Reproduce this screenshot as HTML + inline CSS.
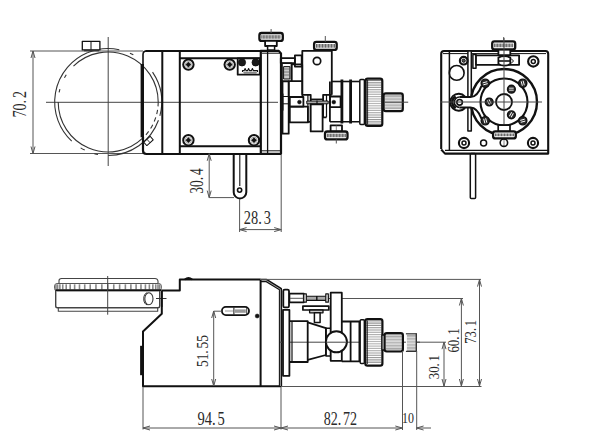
<!DOCTYPE html>
<html><head><meta charset="utf-8"><style>
html,body{margin:0;padding:0;background:#fff;width:600px;height:443px;overflow:hidden}
svg{display:block}
</style></head><body>
<svg width="600" height="443" viewBox="0 0 600 443" stroke-linecap="butt" stroke-linejoin="round">
<defs><linearGradient id="kg" x1="0" y1="0" x2="0" y2="1">
<stop offset="0" stop-color="#999"/><stop offset="0.3" stop-color="#d4d4d4"/><stop offset="0.5" stop-color="#ececec"/><stop offset="0.7" stop-color="#d4d4d4"/><stop offset="1" stop-color="#999"/></linearGradient></defs>
<rect x="0" y="0" width="600" height="443" fill="#fff"/>
<line x1="46" y1="102.3" x2="278" y2="102.3" stroke="#444" stroke-width="1" />
<line x1="108.2" y1="37" x2="108.2" y2="166" stroke="#444" stroke-width="1" />
<line x1="30" y1="51" x2="143" y2="51" stroke="#555" stroke-width="1" />
<line x1="30" y1="153.5" x2="143" y2="153.5" stroke="#555" stroke-width="1" />
<line x1="33" y1="51" x2="33" y2="153.5" stroke="#555" stroke-width="1" />
<path d="M35.00,58.00 L33,51 L31.00,58.00" stroke="#555" stroke-width="1" fill="none" />
<path d="M31.00,146.50 L33,153.5 L35.00,146.50" stroke="#555" stroke-width="1" fill="none" />
<text transform="translate(26.34,117.59) rotate(-90) scale(0.778,1)" font-family="Liberation Serif" font-size="18.21" fill="#2a2a2a">70.<tspan dx="2.37">2</tspan></text>
<path d="M73.47,66.03 A50,50 0 0 1 158.20,102.00" stroke="#333" stroke-width="1.1" fill="none" />
<path d="M158.20,102.00 A50,50 0 0 1 158.01,106.36" stroke="#333" stroke-width="1.1" fill="none" />
<path d="M157.58,109.82 A50,50 0 0 1 156.71,114.10" stroke="#333" stroke-width="1.1" fill="none" />
<path d="M155.75,117.45 A50,50 0 0 1 154.23,121.54" stroke="#333" stroke-width="1.1" fill="none" />
<path d="M152.75,124.70 A50,50 0 0 1 150.60,128.50" stroke="#333" stroke-width="1.1" fill="none" />
<path d="M148.65,131.39 A50,50 0 0 1 145.94,134.80" stroke="#333" stroke-width="1.1" fill="none" />
<path d="M142.93,137.97 A50,50 0 0 1 58.20,102.00" stroke="#333" stroke-width="1.1" fill="none" />
<path d="M59.12,92.46 A50,50 0 0 1 59.90,89.06" stroke="#333" stroke-width="1.1" fill="none" />
<path d="M64.47,77.76 A50,50 0 0 1 66.27,74.77" stroke="#333" stroke-width="1.1" fill="none" />
<path d="M71.71,141.13 A53.5,53.5 0 0 1 87.30,52.75" stroke="#333" stroke-width="1.1" fill="none" />
<path d="M97.99,154.52 A53.5,53.5 0 0 1 94.35,153.68" stroke="#333" stroke-width="1.1" fill="none" />
<path d="M84.75,150.09 A53.5,53.5 0 0 1 80.65,147.86" stroke="#333" stroke-width="1.1" fill="none" />
<path d="M87.30,52.75 A53.5,53.5 0 0 1 119.32,49.67" stroke="#333" stroke-width="1.1" fill="none" />
<path d="M129.96,53.13 A53.5,53.5 0 0 1 133.32,54.76" stroke="#333" stroke-width="1.1" fill="none" />
<path d="M152.55,72.08 A53.5,53.5 0 0 1 159.88,115.85" stroke="#333" stroke-width="1.1" fill="none" />
<path d="M158.47,120.30 A53.5,53.5 0 0 1 108.20,155.50" stroke="#333" stroke-width="1.1" fill="none" />
<rect x="82.3" y="41.3" width="17.6" height="8.6" rx="0" stroke="#111" stroke-width="1.3" fill="#fff" />
<line x1="91" y1="41.3" x2="91" y2="49.9" stroke="#111" stroke-width="1" />
<path d="M84,50.5 L99,50.5" stroke="#333" stroke-width="1.6" fill="none" />
<path d="M145.5,51 L261,51" stroke="#111" stroke-width="2.2" fill="none" />
<line x1="261" y1="150.8" x2="280" y2="150.8" stroke="#111" stroke-width="1" />
<path d="M143,64 L143,54.5 Q143,51 146.5,51" stroke="#111" stroke-width="1.6" fill="none" />
<path d="M143,137 L143,150.5 Q143,154 146.5,154 L281,154" stroke="#111" stroke-width="2.2" fill="none" />
<line x1="142.3" y1="64" x2="142.3" y2="137.3" stroke="#111" stroke-width="3.4" />
<g transform="translate(148.5,141) rotate(-42)"><rect x="-4.3" y="-2.3" width="8.6" height="4.6" stroke="#111" stroke-width="1" fill="#fff"/><line x1="0" y1="-2.3" x2="0" y2="2.3" stroke="#111" stroke-width="0.8"/></g>
<line x1="162.3" y1="51" x2="162.3" y2="154" stroke="#111" stroke-width="2" />
<line x1="179.8" y1="51" x2="179.8" y2="154" stroke="#111" stroke-width="2" />
<line x1="179.8" y1="58.2" x2="261" y2="58.2" stroke="#111" stroke-width="2" />
<line x1="179.8" y1="146.2" x2="261" y2="146.2" stroke="#111" stroke-width="2" />
<circle cx="188.4" cy="64.6" r="5.2" stroke="#111" stroke-width="2.0" fill="#fff" />
<circle cx="188.4" cy="64.6" r="3.2" stroke="#999" stroke-width="0.8" fill="none" />
<path d="M185.8,64.6 L188.4,62 L191,64.6 L188.4,67.2 Z" stroke="#111" stroke-width="0.5" fill="#111" />
<circle cx="229.7" cy="64.6" r="5.2" stroke="#111" stroke-width="2.0" fill="#fff" />
<circle cx="229.7" cy="64.6" r="3.2" stroke="#999" stroke-width="0.8" fill="none" />
<path d="M227.1,64.6 L229.7,62 L232.3,64.6 L229.7,67.2 Z" stroke="#111" stroke-width="0.5" fill="#111" />
<circle cx="188.4" cy="140.2" r="5.2" stroke="#111" stroke-width="2.0" fill="#fff" />
<circle cx="188.4" cy="140.2" r="3.2" stroke="#999" stroke-width="0.8" fill="none" />
<path d="M185.8,140.2 L188.4,137.6 L191,140.2 L188.4,142.8 Z" stroke="#111" stroke-width="0.5" fill="#111" />
<circle cx="254" cy="140.2" r="5.2" stroke="#111" stroke-width="2.0" fill="#fff" />
<circle cx="254" cy="140.2" r="3.2" stroke="#999" stroke-width="0.8" fill="none" />
<path d="M251.4,140.2 L254,137.6 L256.6,140.2 L254,142.8 Z" stroke="#111" stroke-width="0.5" fill="#111" />
<rect x="237.7" y="58.3" width="22.1" height="16.4" rx="0" stroke="#111" stroke-width="1.8" fill="#fff" />
<circle cx="242" cy="62.4" r="3.6" stroke="#111" stroke-width="0.8" fill="#1a1a1a" />
<circle cx="255.6" cy="62.4" r="3.6" stroke="#111" stroke-width="0.8" fill="#1a1a1a" />
<path d="M242.5,72 L242.5,70.6 L244.2,70.6 L245.1,68.6 L246,70.6 L247.7,70.6 L248.6,68.6 L249.5,70.6 L251.5,70.6 L252.4,68.6 L253.3,70.6 L257.5,70.6 L257.5,72" stroke="#111" stroke-width="1.1" fill="none" />
<rect x="243.7" y="72" width="12.9" height="1.4" rx="0.6" stroke="#666" stroke-width="0.5" fill="#999" />
<path d="M260.8,153.8 L260.8,50.9 L278.8,50.9 L281,53.5 L281,153.8 Z" stroke="#111" stroke-width="2.2" fill="none" />
<line x1="267.6" y1="52" x2="267.6" y2="153" stroke="#111" stroke-width="1.3" />
<line x1="262" y1="53.2" x2="280" y2="53.2" stroke="#111" stroke-width="1" />
<rect x="259.4" y="33" width="23.4" height="7.9" rx="2.2" stroke="#111" stroke-width="2.3" fill="#fff" />
<rect x="261.2" y="35.2" width="19.8" height="3.5" rx="0" stroke="none" stroke-width="0" fill="#ddd" />
<line x1="261.8" y1="35.2" x2="261.8" y2="38.7" stroke="#333" stroke-width="0.7" />
<line x1="263.3" y1="35.2" x2="263.3" y2="38.7" stroke="#333" stroke-width="0.7" />
<line x1="264.8" y1="35.2" x2="264.8" y2="38.7" stroke="#333" stroke-width="0.7" />
<line x1="266.3" y1="35.2" x2="266.3" y2="38.7" stroke="#333" stroke-width="0.7" />
<line x1="267.8" y1="35.2" x2="267.8" y2="38.7" stroke="#333" stroke-width="0.7" />
<line x1="269.3" y1="35.2" x2="269.3" y2="38.7" stroke="#333" stroke-width="0.7" />
<line x1="270.8" y1="35.2" x2="270.8" y2="38.7" stroke="#333" stroke-width="0.7" />
<line x1="272.3" y1="35.2" x2="272.3" y2="38.7" stroke="#333" stroke-width="0.7" />
<line x1="273.8" y1="35.2" x2="273.8" y2="38.7" stroke="#333" stroke-width="0.7" />
<line x1="275.3" y1="35.2" x2="275.3" y2="38.7" stroke="#333" stroke-width="0.7" />
<line x1="276.8" y1="35.2" x2="276.8" y2="38.7" stroke="#333" stroke-width="0.7" />
<line x1="278.3" y1="35.2" x2="278.3" y2="38.7" stroke="#333" stroke-width="0.7" />
<line x1="279.8" y1="35.2" x2="279.8" y2="38.7" stroke="#333" stroke-width="0.7" />
<rect x="265.1" y="40.9" width="11.7" height="5.1" rx="0" stroke="#111" stroke-width="1.8" fill="#fff" />
<rect x="267.6" y="46" width="7" height="4.1" rx="0" stroke="#111" stroke-width="1.5" fill="#fff" />
<line x1="271.1" y1="29" x2="271.1" y2="33" stroke="#555" stroke-width="1" />
<rect x="280.8" y="58.2" width="14.1" height="5" rx="0" stroke="#111" stroke-width="1.8" fill="none" />
<rect x="294.9" y="55.3" width="6.8" height="11.3" rx="0" stroke="#111" stroke-width="1.8" fill="none" />
<path d="M302.3,94.8 L302.3,50.9 L331.8,50.9 L331.8,94.8" stroke="#111" stroke-width="1.8" fill="none" />
<circle cx="317" cy="61" r="3.7" stroke="#111" stroke-width="1.7" fill="none" />
<rect x="314.1" y="41.8" width="22.6" height="8.1" rx="2.2" stroke="#111" stroke-width="2.3" fill="#fff" />
<rect x="315.9" y="44" width="19" height="3.7" rx="0" stroke="none" stroke-width="0" fill="#ddd" />
<line x1="316.5" y1="44" x2="316.5" y2="47.7" stroke="#333" stroke-width="0.7" />
<line x1="318" y1="44" x2="318" y2="47.7" stroke="#333" stroke-width="0.7" />
<line x1="319.5" y1="44" x2="319.5" y2="47.7" stroke="#333" stroke-width="0.7" />
<line x1="321" y1="44" x2="321" y2="47.7" stroke="#333" stroke-width="0.7" />
<line x1="322.5" y1="44" x2="322.5" y2="47.7" stroke="#333" stroke-width="0.7" />
<line x1="324" y1="44" x2="324" y2="47.7" stroke="#333" stroke-width="0.7" />
<line x1="325.5" y1="44" x2="325.5" y2="47.7" stroke="#333" stroke-width="0.7" />
<line x1="327" y1="44" x2="327" y2="47.7" stroke="#333" stroke-width="0.7" />
<line x1="328.5" y1="44" x2="328.5" y2="47.7" stroke="#333" stroke-width="0.7" />
<line x1="330" y1="44" x2="330" y2="47.7" stroke="#333" stroke-width="0.7" />
<line x1="331.5" y1="44" x2="331.5" y2="47.7" stroke="#333" stroke-width="0.7" />
<line x1="333" y1="44" x2="333" y2="47.7" stroke="#333" stroke-width="0.7" />
<line x1="334.5" y1="44" x2="334.5" y2="47.7" stroke="#333" stroke-width="0.7" />
<line x1="325.3" y1="36" x2="325.3" y2="41.8" stroke="#555" stroke-width="1" />
<rect x="282" y="63.2" width="9.6" height="18.1" rx="0" stroke="#111" stroke-width="1.6" fill="none" />
<rect x="283.6" y="66.6" width="6.3" height="12.4" rx="0" stroke="#111" stroke-width="1" fill="#ccc" />
<line x1="284" y1="69" x2="289.5" y2="69" stroke="#666" stroke-width="0.8" />
<line x1="284" y1="72" x2="289.5" y2="72" stroke="#666" stroke-width="0.8" />
<line x1="284" y1="75" x2="289.5" y2="75" stroke="#666" stroke-width="0.8" />
<rect x="291.6" y="64.4" width="10.7" height="16.9" rx="0" stroke="#111" stroke-width="1.6" fill="none" />
<rect x="282.5" y="81.3" width="6.2" height="52.4" rx="0" stroke="#111" stroke-width="1.8" fill="none" />
<line x1="282" y1="93.6" x2="282" y2="110.6" stroke="#111" stroke-width="3" />
<line x1="283" y1="96.5" x2="288" y2="96.5" stroke="#111" stroke-width="1" />
<line x1="283" y1="103.8" x2="288" y2="103.8" stroke="#111" stroke-width="1" />
<rect x="288.7" y="81.3" width="13.6" height="15.7" rx="0" stroke="#111" stroke-width="1.6" fill="none" />
<rect x="289.8" y="97" width="13.6" height="9.6" rx="0" stroke="#111" stroke-width="1.8" fill="none" />
<circle cx="299.4" cy="102.1" r="1.9" stroke="#111" stroke-width="0.5" fill="#111" />
<rect x="289.8" y="106.6" width="18.1" height="15.8" rx="0" stroke="#111" stroke-width="1.8" fill="none" />
<path d="M302.3,94.8 L310.7,94.8 L310.7,121.8 L307.9,121.8" stroke="#111" stroke-width="1.8" fill="none" />
<path d="M331.8,94.8 L323.1,94.8 L323.1,117.3 L326.5,117.3" stroke="#111" stroke-width="1.8" fill="none" />
<line x1="307.9" y1="94.8" x2="307.9" y2="121.8" stroke="#111" stroke-width="1.2" />
<line x1="326.5" y1="94.8" x2="326.5" y2="117.3" stroke="#111" stroke-width="1.2" />
<line x1="310.7" y1="99.3" x2="323.1" y2="99.3" stroke="#111" stroke-width="1.5" />
<rect x="306.8" y="101" width="21.4" height="2.8" rx="0" stroke="#111" stroke-width="1" fill="#aaa" />
<line x1="317" y1="100.5" x2="317" y2="104.3" stroke="#111" stroke-width="1.2" />
<rect x="310.7" y="104.4" width="11.9" height="27" rx="0" stroke="#111" stroke-width="1.8" fill="#fff" />
<rect x="329.9" y="96.5" width="10.7" height="10.7" rx="0" stroke="#111" stroke-width="1.8" fill="none" />
<circle cx="333.8" cy="102.1" r="1.9" stroke="#111" stroke-width="0.5" fill="#111" />
<line x1="329.9" y1="81.5" x2="329.9" y2="121.8" stroke="#111" stroke-width="1.8" />
<line x1="331.8" y1="81.5" x2="360" y2="81.5" stroke="#111" stroke-width="1.6" />
<line x1="329.9" y1="121.8" x2="365" y2="121.8" stroke="#111" stroke-width="1.6" />
<line x1="341.9" y1="79.5" x2="341.9" y2="123.5" stroke="#111" stroke-width="2.8" />
<line x1="350.6" y1="79.5" x2="350.6" y2="123.5" stroke="#111" stroke-width="2.8" />
<rect x="359.8" y="79.6" width="4.6" height="45" rx="1" stroke="#111" stroke-width="1.5" fill="#fff" />
<rect x="365.6" y="78.7" width="16.7" height="47.2" rx="2.2" stroke="none" stroke-width="0" fill="#fff" />
<line x1="366.6" y1="80.5" x2="381.3" y2="80.5" stroke="#818181" stroke-width="1.15" />
<line x1="366.6" y1="82.8" x2="381.3" y2="82.8" stroke="#8c8c8c" stroke-width="1.15" />
<line x1="366.6" y1="85.1" x2="381.3" y2="85.1" stroke="#969696" stroke-width="1.15" />
<line x1="366.6" y1="87.4" x2="381.3" y2="87.4" stroke="#9e9e9e" stroke-width="1.15" />
<line x1="366.6" y1="89.7" x2="381.3" y2="89.7" stroke="#a5a5a5" stroke-width="1.15" />
<line x1="366.6" y1="92" x2="381.3" y2="92" stroke="#ababab" stroke-width="1.15" />
<line x1="366.6" y1="94.3" x2="381.3" y2="94.3" stroke="#b0b0b0" stroke-width="1.15" />
<line x1="366.6" y1="96.6" x2="381.3" y2="96.6" stroke="#b4b4b4" stroke-width="1.15" />
<line x1="366.6" y1="98.9" x2="381.3" y2="98.9" stroke="#b6b6b6" stroke-width="1.15" />
<line x1="366.6" y1="101.2" x2="381.3" y2="101.2" stroke="#b7b7b7" stroke-width="1.15" />
<line x1="366.6" y1="103.5" x2="381.3" y2="103.5" stroke="#b7b7b7" stroke-width="1.15" />
<line x1="366.6" y1="105.8" x2="381.3" y2="105.8" stroke="#b6b6b6" stroke-width="1.15" />
<line x1="366.6" y1="108.1" x2="381.3" y2="108.1" stroke="#b4b4b4" stroke-width="1.15" />
<line x1="366.6" y1="110.4" x2="381.3" y2="110.4" stroke="#b0b0b0" stroke-width="1.15" />
<line x1="366.6" y1="112.7" x2="381.3" y2="112.7" stroke="#ababab" stroke-width="1.15" />
<line x1="366.6" y1="115" x2="381.3" y2="115" stroke="#a5a5a5" stroke-width="1.15" />
<line x1="366.6" y1="117.3" x2="381.3" y2="117.3" stroke="#9e9e9e" stroke-width="1.15" />
<line x1="366.6" y1="119.6" x2="381.3" y2="119.6" stroke="#959595" stroke-width="1.15" />
<line x1="366.6" y1="121.9" x2="381.3" y2="121.9" stroke="#8b8b8b" stroke-width="1.15" />
<line x1="366.6" y1="124.2" x2="381.3" y2="124.2" stroke="#808080" stroke-width="1.15" />
<rect x="365.6" y="78.7" width="16.7" height="47.2" rx="2.2" stroke="#111" stroke-width="2.2" fill="none" />
<line x1="367.6" y1="80" x2="367.6" y2="124.6" stroke="#111" stroke-width="0.9" />
<rect x="382.3" y="95.8" width="2.5" height="12.9" rx="0" stroke="#111" stroke-width="1.2" fill="#fff" />
<rect x="383.6" y="93.4" width="19.2" height="17.8" rx="2.2" stroke="none" stroke-width="0" fill="#fff" />
<line x1="384.6" y1="95.2" x2="401.8" y2="95.2" stroke="#898989" stroke-width="0.9" />
<line x1="384.6" y1="96.7" x2="401.8" y2="96.7" stroke="#949494" stroke-width="0.9" />
<line x1="384.6" y1="98.2" x2="401.8" y2="98.2" stroke="#9d9d9d" stroke-width="0.9" />
<line x1="384.6" y1="99.7" x2="401.8" y2="99.7" stroke="#a3a3a3" stroke-width="0.9" />
<line x1="384.6" y1="101.2" x2="401.8" y2="101.2" stroke="#a7a7a7" stroke-width="0.9" />
<line x1="384.6" y1="102.7" x2="401.8" y2="102.7" stroke="#a7a7a7" stroke-width="0.9" />
<line x1="384.6" y1="104.2" x2="401.8" y2="104.2" stroke="#a5a5a5" stroke-width="0.9" />
<line x1="384.6" y1="105.7" x2="401.8" y2="105.7" stroke="#a0a0a0" stroke-width="0.9" />
<line x1="384.6" y1="107.2" x2="401.8" y2="107.2" stroke="#999999" stroke-width="0.9" />
<line x1="384.6" y1="108.7" x2="401.8" y2="108.7" stroke="#8f8f8f" stroke-width="0.9" />
<rect x="383.6" y="93.4" width="19.2" height="17.8" rx="2.2" stroke="#111" stroke-width="2.2" fill="none" />
<line x1="384" y1="102.2" x2="408.2" y2="102.2" stroke="#444" stroke-width="1" />
<rect x="330.6" y="125.4" width="11.4" height="6.2" rx="0" stroke="#111" stroke-width="1.8" fill="#fff" />
<line x1="336.3" y1="125.4" x2="336.3" y2="131.6" stroke="#666" stroke-width="0.8" />
<rect x="325" y="131.5" width="22.5" height="7.9" rx="2.2" stroke="#111" stroke-width="2.3" fill="#fff" />
<rect x="326.8" y="133.7" width="18.9" height="3.5" rx="0" stroke="none" stroke-width="0" fill="#ddd" />
<line x1="327.4" y1="133.7" x2="327.4" y2="137.2" stroke="#333" stroke-width="0.7" />
<line x1="328.9" y1="133.7" x2="328.9" y2="137.2" stroke="#333" stroke-width="0.7" />
<line x1="330.4" y1="133.7" x2="330.4" y2="137.2" stroke="#333" stroke-width="0.7" />
<line x1="331.9" y1="133.7" x2="331.9" y2="137.2" stroke="#333" stroke-width="0.7" />
<line x1="333.4" y1="133.7" x2="333.4" y2="137.2" stroke="#333" stroke-width="0.7" />
<line x1="334.9" y1="133.7" x2="334.9" y2="137.2" stroke="#333" stroke-width="0.7" />
<line x1="336.4" y1="133.7" x2="336.4" y2="137.2" stroke="#333" stroke-width="0.7" />
<line x1="337.9" y1="133.7" x2="337.9" y2="137.2" stroke="#333" stroke-width="0.7" />
<line x1="339.4" y1="133.7" x2="339.4" y2="137.2" stroke="#333" stroke-width="0.7" />
<line x1="340.9" y1="133.7" x2="340.9" y2="137.2" stroke="#333" stroke-width="0.7" />
<line x1="342.4" y1="133.7" x2="342.4" y2="137.2" stroke="#333" stroke-width="0.7" />
<line x1="343.9" y1="133.7" x2="343.9" y2="137.2" stroke="#333" stroke-width="0.7" />
<line x1="345.4" y1="133.7" x2="345.4" y2="137.2" stroke="#333" stroke-width="0.7" />
<line x1="336.3" y1="139.4" x2="336.3" y2="143.5" stroke="#555" stroke-width="1" />
<path d="M233.7,154 L233.7,192.2 A6.3,6.3 0 0 0 246.3,192.2 L246.3,154" stroke="#111" stroke-width="2" fill="none" />
<line x1="239.8" y1="154" x2="239.8" y2="186" stroke="#111" stroke-width="1.1" />
<circle cx="239.6" cy="190.1" r="2.1" stroke="#111" stroke-width="1.6" fill="none" />
<line x1="209.2" y1="153.5" x2="209.2" y2="197.6" stroke="#555" stroke-width="1" />
<path d="M211.20,160.80 L209.2,153.8 L207.20,160.80" stroke="#555" stroke-width="1" fill="none" />
<path d="M207.20,190.60 L209.2,197.6 L211.20,190.60" stroke="#555" stroke-width="1" fill="none" />
<line x1="209.2" y1="197.6" x2="234" y2="197.6" stroke="#555" stroke-width="1" />
<text transform="translate(202.74,193.67) rotate(-90) scale(0.740,1)" font-family="Liberation Serif" font-size="18.21" fill="#2a2a2a">30.<tspan dx="2.37">4</tspan></text>
<line x1="239.6" y1="199" x2="239.6" y2="232" stroke="#555" stroke-width="1" />
<line x1="281.2" y1="155" x2="281.2" y2="232" stroke="#555" stroke-width="1" />
<line x1="239.6" y1="229.6" x2="281.2" y2="229.6" stroke="#555" stroke-width="1" />
<path d="M246.60,227.60 L239.6,229.6 L246.60,231.60" stroke="#555" stroke-width="1" fill="none" />
<path d="M274.20,231.60 L281.2,229.6 L274.20,227.60" stroke="#555" stroke-width="1" fill="none" />
<text transform="translate(243.82,223.92) rotate(0) scale(0.765,1)" font-family="Liberation Serif" font-size="18.81" fill="#2a2a2a">28.<tspan dx="2.44">3</tspan></text>
<path d="M441.2,149 L441.2,54 Q441.2,51 444,51 L545.5,51 Q548.2,51 548.2,54 L548.2,153.6 L445,153.6 L441.2,149.5" stroke="#111" stroke-width="2.1" fill="none" />
<line x1="449.4" y1="51" x2="449.4" y2="151" stroke="#111" stroke-width="1.5" />
<line x1="443" y1="53.6" x2="546" y2="53.6" stroke="#111" stroke-width="1" />
<line x1="445" y1="150.3" x2="548" y2="150.3" stroke="#111" stroke-width="1.3" />
<rect x="467.9" y="51" width="3.4" height="80" rx="0" stroke="#111" stroke-width="1.5" fill="#fff" />
<circle cx="463.7" cy="60.7" r="3.8" stroke="#111" stroke-width="2.2" fill="#fff" />
<circle cx="463.7" cy="60.7" r="1.6" stroke="#111" stroke-width="1" fill="#555" />
<circle cx="456.7" cy="72.9" r="7.4" stroke="#111" stroke-width="1.6" fill="none" />
<rect x="472.9" y="54.6" width="3.1" height="13.6" rx="0" stroke="#111" stroke-width="1.5" fill="#fff" />
<rect x="476" y="55.3" width="43.1" height="9.5" rx="0" stroke="#111" stroke-width="1.8" fill="#fff" />
<circle cx="504" cy="102" r="33" stroke="#111" stroke-width="2.4" fill="none" />
<path d="M498.4,57.6 Q504.3,54.4 510.3,57.6 L510.3,64 Q504.3,67.4 498.4,64 Z" stroke="#111" stroke-width="1.8" fill="#fff" />
<line x1="498.4" y1="61" x2="510.3" y2="61" stroke="#111" stroke-width="1.6" />
<path d="M511,58.5 L513.5,61 L511,63.5" stroke="#111" stroke-width="1" fill="none" />
<rect x="498.4" y="49.4" width="11.9" height="5.8" rx="0" stroke="#111" stroke-width="1.8" fill="#fff" />
<rect x="492.2" y="41.4" width="23" height="8" rx="2.2" stroke="#111" stroke-width="2.3" fill="#fff" />
<rect x="494" y="43.6" width="19.4" height="3.6" rx="0" stroke="none" stroke-width="0" fill="#ddd" />
<line x1="494.6" y1="43.6" x2="494.6" y2="47.2" stroke="#333" stroke-width="0.7" />
<line x1="496.1" y1="43.6" x2="496.1" y2="47.2" stroke="#333" stroke-width="0.7" />
<line x1="497.6" y1="43.6" x2="497.6" y2="47.2" stroke="#333" stroke-width="0.7" />
<line x1="499.1" y1="43.6" x2="499.1" y2="47.2" stroke="#333" stroke-width="0.7" />
<line x1="500.6" y1="43.6" x2="500.6" y2="47.2" stroke="#333" stroke-width="0.7" />
<line x1="502.1" y1="43.6" x2="502.1" y2="47.2" stroke="#333" stroke-width="0.7" />
<line x1="503.6" y1="43.6" x2="503.6" y2="47.2" stroke="#333" stroke-width="0.7" />
<line x1="505.1" y1="43.6" x2="505.1" y2="47.2" stroke="#333" stroke-width="0.7" />
<line x1="506.6" y1="43.6" x2="506.6" y2="47.2" stroke="#333" stroke-width="0.7" />
<line x1="508.1" y1="43.6" x2="508.1" y2="47.2" stroke="#333" stroke-width="0.7" />
<line x1="509.6" y1="43.6" x2="509.6" y2="47.2" stroke="#333" stroke-width="0.7" />
<line x1="511.1" y1="43.6" x2="511.1" y2="47.2" stroke="#333" stroke-width="0.7" />
<line x1="512.6" y1="43.6" x2="512.6" y2="47.2" stroke="#333" stroke-width="0.7" />
<line x1="503.7" y1="37" x2="503.7" y2="41.4" stroke="#555" stroke-width="1" />
<circle cx="533.3" cy="61.4" r="5.2" stroke="#111" stroke-width="2.1" fill="#fff" />
<circle cx="533.3" cy="61.4" r="2" stroke="#111" stroke-width="1.5" fill="none" />
<path d="M465,96.6 A8.5,8.5 0 1 0 465,108 L470.5,107.4 C476,107.4 479,112 481.5,118.6 L481.5,85.8 C479,92.5 476,97 470.5,97 Z" stroke="none" stroke-width="0" fill="#fff" />
<path d="M465,96.6 A8.5,8.5 0 1 0 465,108" stroke="#111" stroke-width="1.9" fill="none" />
<path d="M459.5,97 L470.5,97 C476,97 479,92.5 481.5,85.8" stroke="#111" stroke-width="2" fill="none" />
<path d="M459.5,107.4 L470.5,107.4 C476,107.4 479,112 481.5,118.6" stroke="#111" stroke-width="2" fill="none" />
<path d="M459.5,97 A5.2,5.2 0 0 0 459.5,107.4" stroke="#111" stroke-width="1.6" fill="none" />
<path d="M455.70,108.13 A6.6,6.6 0 0 1 455.70,96.47" stroke="#111" stroke-width="2.4" fill="none" />
<circle cx="459.6" cy="102.3" r="2.8" stroke="#111" stroke-width="1.6" fill="none" />
<circle cx="504" cy="102" r="23.5" stroke="#111" stroke-width="2.1" fill="none" />
<circle cx="504" cy="102" r="8" stroke="#111" stroke-width="1.8" fill="none" />
<circle cx="522.74" cy="120.74" r="4.1" stroke="#111" stroke-width="1.4" fill="#2a2a2a" />
<g transform="rotate(165 522.74 120.74)"><line x1="520.44" y1="119.74" x2="525.04" y2="119.74" stroke="#fff" stroke-width="0.9"/><line x1="520.44" y1="121.74" x2="525.04" y2="121.74" stroke="#fff" stroke-width="0.9"/></g>
<circle cx="485.26" cy="120.74" r="4.1" stroke="#111" stroke-width="1.4" fill="#2a2a2a" />
<g transform="rotate(255 485.26 120.74)"><line x1="482.96" y1="119.74" x2="487.56" y2="119.74" stroke="#fff" stroke-width="0.9"/><line x1="482.96" y1="121.74" x2="487.56" y2="121.74" stroke="#fff" stroke-width="0.9"/></g>
<circle cx="485.26" cy="83.26" r="4.1" stroke="#111" stroke-width="1.4" fill="#2a2a2a" />
<g transform="rotate(345 485.26 83.26)"><line x1="482.96" y1="82.26" x2="487.56" y2="82.26" stroke="#fff" stroke-width="0.9"/><line x1="482.96" y1="84.26" x2="487.56" y2="84.26" stroke="#fff" stroke-width="0.9"/></g>
<circle cx="522.74" cy="83.26" r="4.1" stroke="#111" stroke-width="1.4" fill="#2a2a2a" />
<g transform="rotate(435 522.74 83.26)"><line x1="520.44" y1="82.26" x2="525.04" y2="82.26" stroke="#fff" stroke-width="0.9"/><line x1="520.44" y1="84.26" x2="525.04" y2="84.26" stroke="#fff" stroke-width="0.9"/></g>
<circle cx="511.4" cy="89.18" r="3.9" stroke="#111" stroke-width="1.4" fill="#2a2a2a" />
<g transform="rotate(0 511.40 89.18)"><line x1="509.10" y1="88.18" x2="513.70" y2="88.18" stroke="#fff" stroke-width="0.9"/><line x1="509.10" y1="90.18" x2="513.70" y2="90.18" stroke="#fff" stroke-width="0.9"/></g>
<circle cx="489.2" cy="102" r="3.9" stroke="#111" stroke-width="1.4" fill="#2a2a2a" />
<g transform="rotate(240 489.20 102.00)"><line x1="486.90" y1="101.00" x2="491.50" y2="101.00" stroke="#fff" stroke-width="0.9"/><line x1="486.90" y1="103.00" x2="491.50" y2="103.00" stroke="#fff" stroke-width="0.9"/></g>
<circle cx="511.4" cy="114.82" r="3.9" stroke="#111" stroke-width="1.4" fill="#2a2a2a" />
<g transform="rotate(120 511.40 114.82)"><line x1="509.10" y1="113.82" x2="513.70" y2="113.82" stroke="#fff" stroke-width="0.9"/><line x1="509.10" y1="115.82" x2="513.70" y2="115.82" stroke="#fff" stroke-width="0.9"/></g>
<line x1="440" y1="102" x2="542" y2="102" stroke="#444" stroke-width="1" />
<line x1="504" y1="38" x2="504" y2="130" stroke="#444" stroke-width="1" />
<line x1="504" y1="138.5" x2="504" y2="147" stroke="#888" stroke-width="1" />
<rect x="498.2" y="125.2" width="11.8" height="6.3" rx="0" stroke="#111" stroke-width="1.7" fill="#fff" />
<rect x="493.1" y="131.3" width="22.7" height="7.1" rx="2.2" stroke="#111" stroke-width="2.3" fill="#fff" />
<rect x="494.9" y="133.5" width="19.1" height="2.7" rx="0" stroke="none" stroke-width="0" fill="#ddd" />
<line x1="495.5" y1="133.5" x2="495.5" y2="136.2" stroke="#333" stroke-width="0.7" />
<line x1="497" y1="133.5" x2="497" y2="136.2" stroke="#333" stroke-width="0.7" />
<line x1="498.5" y1="133.5" x2="498.5" y2="136.2" stroke="#333" stroke-width="0.7" />
<line x1="500" y1="133.5" x2="500" y2="136.2" stroke="#333" stroke-width="0.7" />
<line x1="501.5" y1="133.5" x2="501.5" y2="136.2" stroke="#333" stroke-width="0.7" />
<line x1="503" y1="133.5" x2="503" y2="136.2" stroke="#333" stroke-width="0.7" />
<line x1="504.5" y1="133.5" x2="504.5" y2="136.2" stroke="#333" stroke-width="0.7" />
<line x1="506" y1="133.5" x2="506" y2="136.2" stroke="#333" stroke-width="0.7" />
<line x1="507.5" y1="133.5" x2="507.5" y2="136.2" stroke="#333" stroke-width="0.7" />
<line x1="509" y1="133.5" x2="509" y2="136.2" stroke="#333" stroke-width="0.7" />
<line x1="510.5" y1="133.5" x2="510.5" y2="136.2" stroke="#333" stroke-width="0.7" />
<line x1="512" y1="133.5" x2="512" y2="136.2" stroke="#333" stroke-width="0.7" />
<line x1="513.5" y1="133.5" x2="513.5" y2="136.2" stroke="#333" stroke-width="0.7" />
<circle cx="464" cy="143" r="5.1" stroke="#111" stroke-width="2.1" fill="#fff" />
<circle cx="464" cy="143" r="2" stroke="#111" stroke-width="1.5" fill="none" />
<circle cx="533" cy="143" r="5.1" stroke="#111" stroke-width="2.1" fill="#fff" />
<circle cx="533" cy="143" r="2" stroke="#111" stroke-width="1.5" fill="none" />
<circle cx="483.6" cy="143" r="3" stroke="#111" stroke-width="1.5" fill="none" />
<circle cx="503.9" cy="142.7" r="3.7" stroke="#111" stroke-width="1.6" fill="none" />
<rect x="470.3" y="153.6" width="5.3" height="44.8" rx="1" stroke="#111" stroke-width="1.5" fill="none" />
<path d="M59,283.5 L59,280.7 Q59,278.5 61.5,278.5 L155,278.5 Q157.5,278.5 158,281 L158,283.5" stroke="#444" stroke-width="1.1" fill="none" />
<rect x="54.6" y="283.5" width="106.7" height="7.5" rx="2.5" stroke="#555" stroke-width="1" fill="#fff" />
<line x1="55.93" y1="284.3" x2="55.93" y2="289.5" stroke="#888" stroke-width="1.6" />
<line x1="57.59" y1="284.3" x2="57.59" y2="289.5" stroke="#888" stroke-width="1.6" />
<line x1="59.87" y1="284.3" x2="59.87" y2="289.5" stroke="#888" stroke-width="1.6" />
<line x1="62.75" y1="284.3" x2="62.75" y2="289.5" stroke="#888" stroke-width="1.6" />
<line x1="66.21" y1="284.3" x2="66.21" y2="289.5" stroke="#888" stroke-width="1.6" />
<line x1="70.18" y1="284.3" x2="70.18" y2="289.5" stroke="#888" stroke-width="1.6" />
<line x1="74.63" y1="284.3" x2="74.63" y2="289.5" stroke="#888" stroke-width="1.6" />
<line x1="79.5" y1="284.3" x2="79.5" y2="289.5" stroke="#888" stroke-width="1.6" />
<line x1="84.72" y1="284.3" x2="84.72" y2="289.5" stroke="#888" stroke-width="1.6" />
<line x1="90.23" y1="284.3" x2="90.23" y2="289.5" stroke="#888" stroke-width="1.6" />
<line x1="95.96" y1="284.3" x2="95.96" y2="289.5" stroke="#888" stroke-width="1.6" />
<line x1="101.84" y1="284.3" x2="101.84" y2="289.5" stroke="#888" stroke-width="1.6" />
<line x1="107.8" y1="284.3" x2="107.8" y2="289.5" stroke="#888" stroke-width="1.6" />
<line x1="113.76" y1="284.3" x2="113.76" y2="289.5" stroke="#888" stroke-width="1.6" />
<line x1="119.64" y1="284.3" x2="119.64" y2="289.5" stroke="#888" stroke-width="1.6" />
<line x1="125.37" y1="284.3" x2="125.37" y2="289.5" stroke="#888" stroke-width="1.6" />
<line x1="130.88" y1="284.3" x2="130.88" y2="289.5" stroke="#888" stroke-width="1.6" />
<line x1="136.1" y1="284.3" x2="136.1" y2="289.5" stroke="#888" stroke-width="1.6" />
<line x1="140.97" y1="284.3" x2="140.97" y2="289.5" stroke="#888" stroke-width="1.6" />
<line x1="145.42" y1="284.3" x2="145.42" y2="289.5" stroke="#888" stroke-width="1.6" />
<line x1="149.39" y1="284.3" x2="149.39" y2="289.5" stroke="#888" stroke-width="1.6" />
<line x1="152.85" y1="284.3" x2="152.85" y2="289.5" stroke="#888" stroke-width="1.6" />
<line x1="155.73" y1="284.3" x2="155.73" y2="289.5" stroke="#888" stroke-width="1.6" />
<line x1="158.01" y1="284.3" x2="158.01" y2="289.5" stroke="#888" stroke-width="1.6" />
<line x1="159.67" y1="284.3" x2="159.67" y2="289.5" stroke="#888" stroke-width="1.6" />
<line x1="55.5" y1="290.2" x2="161" y2="290.2" stroke="#111" stroke-width="1.7" />
<path d="M55.7,291 L55.7,306 Q55.7,307.8 57.5,307.8 L158,307.8 Q159.7,307.8 159.7,306 L159.7,291" stroke="#444" stroke-width="1.4" fill="none" />
<path d="M58.3,308 L58.3,311.3 L157.7,311.3 L157.7,308" stroke="#444" stroke-width="1.1" fill="none" />
<line x1="107.7" y1="276" x2="107.7" y2="314.7" stroke="#444" stroke-width="1" />
<path d="M147.3,292.8 A3.6,6 0 0 0 147.3,304.8" stroke="#333" stroke-width="1" fill="none" />
<ellipse cx="148.9" cy="298.8" rx="4.1" ry="6" stroke="#333" stroke-width="1.1" fill="#fff"/>
<line x1="156" y1="298.5" x2="166.5" y2="298.5" stroke="#333" stroke-width="1" />
<path d="M161.3,290.4 L179.8,290.4 L179.8,279.4 L260.6,279.4" stroke="#111" stroke-width="2" fill="none" />
<path d="M161.8,290.7 L161.8,313.8 L143,331.5 L143,386.3 L281,386.3" stroke="#111" stroke-width="2" fill="none" />
<line x1="161.8" y1="291" x2="161.8" y2="307" stroke="#111" stroke-width="1.5" />
<line x1="141.4" y1="345.8" x2="141.4" y2="375.2" stroke="#111" stroke-width="2.6" />
<path d="M184.8,279.5 Q188.5,276.6 192.2,279.5" stroke="#111" stroke-width="1.8" fill="none" />
<line x1="260.6" y1="279.4" x2="260.6" y2="386.3" stroke="#111" stroke-width="2" />
<path d="M260.6,280.5 L266.4,280.5 L280.5,289.2 L280.5,386.3" stroke="#111" stroke-width="3.3" fill="none" />
<path d="M261.5,280.5 L266.2,280.5 L280.4,289.3 L280.4,386" stroke="#aaa" stroke-width="0.9" fill="none" />
<rect x="221.9" y="306.9" width="27.1" height="8.2" rx="4" stroke="#111" stroke-width="1.8" fill="none" />
<line x1="225" y1="311" x2="233" y2="311" stroke="#aaa" stroke-width="1.2" />
<line x1="233.9" y1="307.5" x2="233.9" y2="314.5" stroke="#111" stroke-width="1" />
<rect x="234.8" y="309.4" width="11" height="3.4" rx="0" stroke="none" stroke-width="0" fill="#999" />
<line x1="246.7" y1="308" x2="246.7" y2="314" stroke="#111" stroke-width="0.8" />
<circle cx="257.2" cy="316" r="2" stroke="#111" stroke-width="0.5" fill="#111" />
<line x1="213.7" y1="311" x2="213.7" y2="386" stroke="#555" stroke-width="1" />
<path d="M215.70,318.00 L213.7,311 L211.70,318.00" stroke="#555" stroke-width="1" fill="none" />
<path d="M211.70,379.00 L213.7,386 L215.70,379.00" stroke="#555" stroke-width="1" fill="none" />
<line x1="213.7" y1="311.2" x2="221.9" y2="311.2" stroke="#555" stroke-width="1" />
<text transform="translate(208.43,367.00) rotate(-90) scale(0.793,1)" font-family="Liberation Serif" font-size="16.87" fill="#2a2a2a">51.<tspan dx="2.19">55</tspan></text>
<line x1="260" y1="279.4" x2="481" y2="279.4" stroke="#555" stroke-width="1" />
<line x1="289.4" y1="298.5" x2="463" y2="298.5" stroke="#555" stroke-width="1" />
<line x1="281" y1="386.5" x2="481.5" y2="386.5" stroke="#555" stroke-width="1" />
<line x1="416.7" y1="342.2" x2="446" y2="342.2" stroke="#555" stroke-width="1" />
<line x1="280" y1="342.2" x2="420" y2="342.2" stroke="#444" stroke-width="1" />
<rect x="289.4" y="293.6" width="14.4" height="8.7" rx="0" stroke="#111" stroke-width="1.8" fill="#fff" />
<line x1="289.4" y1="298.3" x2="303.8" y2="298.3" stroke="#555" stroke-width="1" />
<rect x="283.3" y="289.6" width="5.7" height="17.8" rx="1.5" stroke="#111" stroke-width="1.8" fill="#fff" />
<rect x="303.8" y="296.2" width="24.4" height="4.2" rx="0" stroke="#111" stroke-width="1.1" fill="#aaa" />
<rect x="303.8" y="293.8" width="2.5" height="8.4" rx="0" stroke="#111" stroke-width="1.2" fill="#fff" />
<rect x="325.8" y="293.8" width="2.5" height="8.4" rx="0" stroke="#111" stroke-width="1.2" fill="#fff" />
<line x1="316.8" y1="296" x2="316.8" y2="300.6" stroke="#111" stroke-width="1.4" />
<rect x="302.9" y="306.1" width="25.9" height="3.9" rx="0" stroke="#111" stroke-width="1.7" fill="#fff" />
<rect x="309.6" y="310" width="13.4" height="2.8" rx="0" stroke="#111" stroke-width="1.3" fill="#ccc" />
<rect x="314.4" y="312.8" width="5.7" height="9.6" rx="0" stroke="#111" stroke-width="1.5" fill="#fff" />
<rect x="283" y="309.9" width="6.4" height="65.9" rx="0" stroke="#111" stroke-width="1.8" fill="#fff" />
<path d="M289.4,321.2 L307.7,321.2 L307.7,362 L289.4,362" stroke="#111" stroke-width="1.8" fill="none" />
<line x1="292" y1="321.2" x2="292" y2="362" stroke="#111" stroke-width="1.2" />
<path d="M307.7,322.4 L325.9,328.2 L325.9,355 L307.7,359.8" stroke="#111" stroke-width="1.8" fill="none" />
<rect x="325.9" y="328.2" width="4.8" height="27.8" rx="0" stroke="#111" stroke-width="1.5" fill="none" />
<rect x="330.7" y="292.7" width="11.1" height="68.1" rx="0" stroke="#111" stroke-width="1.8" fill="#fff" />
<path d="M341.8,321.5 L360.2,321.5 M341.8,361.3 L360.2,361.3" stroke="#111" stroke-width="1.8" fill="none" />
<line x1="350.6" y1="321.4" x2="350.6" y2="361.4" stroke="#111" stroke-width="1.8" />
<line x1="359.3" y1="321.4" x2="359.3" y2="361.4" stroke="#111" stroke-width="1.6" />
<rect x="360.2" y="319.8" width="4.1" height="43.7" rx="1" stroke="#111" stroke-width="1.4" fill="#fff" />
<circle cx="336.4" cy="341.8" r="10.5" stroke="#111" stroke-width="1.9" fill="#fff" />
<line x1="325.9" y1="342.2" x2="347" y2="342.2" stroke="#444" stroke-width="1" />
<rect x="365.3" y="319" width="17.1" height="46.6" rx="2.2" stroke="none" stroke-width="0" fill="#fff" />
<line x1="366.3" y1="320.8" x2="381.4" y2="320.8" stroke="#818181" stroke-width="1.15" />
<line x1="366.3" y1="323.1" x2="381.4" y2="323.1" stroke="#8c8c8c" stroke-width="1.15" />
<line x1="366.3" y1="325.4" x2="381.4" y2="325.4" stroke="#969696" stroke-width="1.15" />
<line x1="366.3" y1="327.7" x2="381.4" y2="327.7" stroke="#9e9e9e" stroke-width="1.15" />
<line x1="366.3" y1="330" x2="381.4" y2="330" stroke="#a6a6a6" stroke-width="1.15" />
<line x1="366.3" y1="332.3" x2="381.4" y2="332.3" stroke="#acacac" stroke-width="1.15" />
<line x1="366.3" y1="334.6" x2="381.4" y2="334.6" stroke="#b1b1b1" stroke-width="1.15" />
<line x1="366.3" y1="336.9" x2="381.4" y2="336.9" stroke="#b4b4b4" stroke-width="1.15" />
<line x1="366.3" y1="339.2" x2="381.4" y2="339.2" stroke="#b6b6b6" stroke-width="1.15" />
<line x1="366.3" y1="341.5" x2="381.4" y2="341.5" stroke="#b7b7b7" stroke-width="1.15" />
<line x1="366.3" y1="343.8" x2="381.4" y2="343.8" stroke="#b7b7b7" stroke-width="1.15" />
<line x1="366.3" y1="346.1" x2="381.4" y2="346.1" stroke="#b6b6b6" stroke-width="1.15" />
<line x1="366.3" y1="348.4" x2="381.4" y2="348.4" stroke="#b3b3b3" stroke-width="1.15" />
<line x1="366.3" y1="350.7" x2="381.4" y2="350.7" stroke="#afafaf" stroke-width="1.15" />
<line x1="366.3" y1="353" x2="381.4" y2="353" stroke="#aaaaaa" stroke-width="1.15" />
<line x1="366.3" y1="355.3" x2="381.4" y2="355.3" stroke="#a4a4a4" stroke-width="1.15" />
<line x1="366.3" y1="357.6" x2="381.4" y2="357.6" stroke="#9c9c9c" stroke-width="1.15" />
<line x1="366.3" y1="359.9" x2="381.4" y2="359.9" stroke="#939393" stroke-width="1.15" />
<line x1="366.3" y1="362.2" x2="381.4" y2="362.2" stroke="#898989" stroke-width="1.15" />
<rect x="365.3" y="319" width="17.1" height="46.6" rx="2.2" stroke="#111" stroke-width="2.2" fill="none" />
<line x1="367.3" y1="320.5" x2="367.3" y2="364" stroke="#111" stroke-width="0.9" />
<rect x="382" y="335" width="2.6" height="15" rx="0" stroke="#111" stroke-width="1.3" fill="#fff" />
<rect x="384.6" y="333.1" width="18.3" height="18.4" rx="2.2" stroke="none" stroke-width="0" fill="#fff" />
<line x1="385.6" y1="334.9" x2="401.9" y2="334.9" stroke="#888888" stroke-width="0.9" />
<line x1="385.6" y1="336.4" x2="401.9" y2="336.4" stroke="#949494" stroke-width="0.9" />
<line x1="385.6" y1="337.9" x2="401.9" y2="337.9" stroke="#9d9d9d" stroke-width="0.9" />
<line x1="385.6" y1="339.4" x2="401.9" y2="339.4" stroke="#a3a3a3" stroke-width="0.9" />
<line x1="385.6" y1="340.9" x2="401.9" y2="340.9" stroke="#a6a6a6" stroke-width="0.9" />
<line x1="385.6" y1="342.4" x2="401.9" y2="342.4" stroke="#a7a7a7" stroke-width="0.9" />
<line x1="385.6" y1="343.9" x2="401.9" y2="343.9" stroke="#a6a6a6" stroke-width="0.9" />
<line x1="385.6" y1="345.4" x2="401.9" y2="345.4" stroke="#a2a2a2" stroke-width="0.9" />
<line x1="385.6" y1="346.9" x2="401.9" y2="346.9" stroke="#9b9b9b" stroke-width="0.9" />
<line x1="385.6" y1="348.4" x2="401.9" y2="348.4" stroke="#929292" stroke-width="0.9" />
<line x1="385.6" y1="349.9" x2="401.9" y2="349.9" stroke="#878787" stroke-width="0.9" />
<rect x="384.6" y="333.1" width="18.3" height="18.4" rx="2.2" stroke="#111" stroke-width="2.2" fill="none" />
<rect x="405.9" y="333.5" width="11" height="18.3" rx="0" stroke="none" stroke-width="0" fill="#fff" />
<line x1="406.9" y1="335.3" x2="415.9" y2="335.3" stroke="#898989" stroke-width="0.9" />
<line x1="406.9" y1="336.8" x2="415.9" y2="336.8" stroke="#949494" stroke-width="0.9" />
<line x1="406.9" y1="338.3" x2="415.9" y2="338.3" stroke="#9d9d9d" stroke-width="0.9" />
<line x1="406.9" y1="339.8" x2="415.9" y2="339.8" stroke="#a3a3a3" stroke-width="0.9" />
<line x1="406.9" y1="341.3" x2="415.9" y2="341.3" stroke="#a6a6a6" stroke-width="0.9" />
<line x1="406.9" y1="342.8" x2="415.9" y2="342.8" stroke="#a7a7a7" stroke-width="0.9" />
<line x1="406.9" y1="344.3" x2="415.9" y2="344.3" stroke="#a6a6a6" stroke-width="0.9" />
<line x1="406.9" y1="345.8" x2="415.9" y2="345.8" stroke="#a2a2a2" stroke-width="0.9" />
<line x1="406.9" y1="347.3" x2="415.9" y2="347.3" stroke="#9b9b9b" stroke-width="0.9" />
<line x1="406.9" y1="348.8" x2="415.9" y2="348.8" stroke="#929292" stroke-width="0.9" />
<line x1="406.9" y1="350.3" x2="415.9" y2="350.3" stroke="#868686" stroke-width="0.9" />
<line x1="405.9" y1="333.8" x2="416.9" y2="333.8" stroke="#333" stroke-width="1.2" />
<line x1="405.9" y1="351.4" x2="416.9" y2="351.4" stroke="#333" stroke-width="1.2" />
<line x1="416.3" y1="333.5" x2="416.3" y2="351.8" stroke="#333" stroke-width="1.4" />
<line x1="402.5" y1="351" x2="402.5" y2="430" stroke="#555" stroke-width="1" />
<line x1="416.7" y1="351" x2="416.7" y2="430" stroke="#555" stroke-width="1" />
<line x1="479.5" y1="279.4" x2="479.5" y2="386" stroke="#555" stroke-width="1" />
<path d="M481.50,286.60 L479.5,279.6 L477.50,286.60" stroke="#555" stroke-width="1" fill="none" />
<path d="M477.50,379.00 L479.5,386 L481.50,379.00" stroke="#555" stroke-width="1" fill="none" />
<line x1="461.4" y1="298.5" x2="461.4" y2="386" stroke="#555" stroke-width="1" />
<path d="M463.40,305.50 L461.4,298.5 L459.40,305.50" stroke="#555" stroke-width="1" fill="none" />
<path d="M459.40,379.00 L461.4,386 L463.40,379.00" stroke="#555" stroke-width="1" fill="none" />
<line x1="444" y1="342.2" x2="444" y2="386" stroke="#555" stroke-width="1" />
<path d="M446.00,349.20 L444,342.2 L442.00,349.20" stroke="#555" stroke-width="1" fill="none" />
<path d="M442.00,379.00 L444,386 L446.00,379.00" stroke="#555" stroke-width="1" fill="none" />
<text transform="translate(476.23,343.68) rotate(-90) scale(0.752,1)" font-family="Liberation Serif" font-size="16.72" fill="#2a2a2a">73.<tspan dx="2.17">1</tspan></text>
<text transform="translate(458.67,352.62) rotate(-90) scale(0.795,1)" font-family="Liberation Serif" font-size="16.32" fill="#2a2a2a">60.<tspan dx="2.12">1</tspan></text>
<text transform="translate(439.29,379.24) rotate(-90) scale(0.831,1)" font-family="Liberation Serif" font-size="15.44" fill="#2a2a2a">30.<tspan dx="2.01">1</tspan></text>
<line x1="143" y1="387" x2="143" y2="429.5" stroke="#555" stroke-width="1" />
<line x1="281" y1="387" x2="281" y2="429.5" stroke="#555" stroke-width="1" />
<line x1="143" y1="428" x2="402.3" y2="428" stroke="#555" stroke-width="1" />
<path d="M150.00,426.00 L143,428 L150.00,430.00" stroke="#555" stroke-width="1" fill="none" />
<path d="M274.00,430.00 L281,428 L274.00,426.00" stroke="#555" stroke-width="1" fill="none" />
<path d="M288.00,426.00 L281,428 L288.00,430.00" stroke="#555" stroke-width="1" fill="none" />
<path d="M395.30,430.00 L402.3,428 L395.30,426.00" stroke="#555" stroke-width="1" fill="none" />
<path d="M423.60,426.00 L416.6,428 L423.60,430.00" stroke="#555" stroke-width="1" fill="none" />
<line x1="416.6" y1="428" x2="431" y2="428" stroke="#555" stroke-width="1" />
<text transform="translate(197.46,424.82) rotate(0) scale(0.793,1)" font-family="Liberation Serif" font-size="18.33" fill="#2a2a2a">94.<tspan dx="2.38">5</tspan></text>
<text transform="translate(323.64,424.64) rotate(0) scale(0.778,1)" font-family="Liberation Serif" font-size="18.06" fill="#2a2a2a">82.<tspan dx="2.35">72</tspan></text>
<text transform="translate(402.12,423.49) rotate(0) scale(0.767,1)" font-family="Liberation Serif" font-size="15.59" fill="#2a2a2a">10</text>
</svg>
</body></html>
